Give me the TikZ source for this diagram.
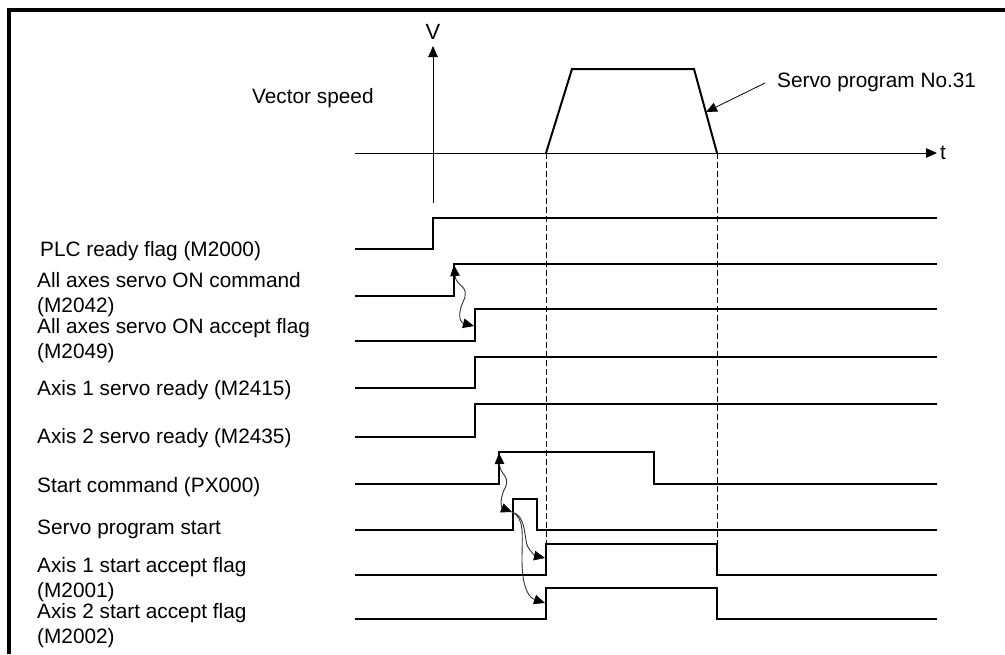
\documentclass[tikz,border=0pt]{standalone}
\usepackage{fontspec}
\setmainfont{Liberation Sans}
\usetikzlibrary{arrows.meta}
\begin{document}
\begin{tikzpicture}[x=1pt,y=-1pt,
  lbl/.style={anchor=base west,inner sep=0pt,align=left,font=\fontsize{20.8}{25}\selectfont},
  sig/.style={line width=2pt,line join=miter},
  axisline/.style={line width=1pt},
  guide/.style={line width=1pt,dash pattern=on 6pt off 3pt},
  tri/.tip={Triangle[length=11pt,width=9.5pt,color=black]},
  cause/.style={line width=0.9pt,draw=black!80}
]
\useasboundingbox (0,0) rectangle (1005,654);
% frame
\draw[line width=4.5pt] (9,654) -- (9,10) -- (1010,10);

% speed graph
\coordinate (torig) at (355,153);
\coordinate (tend) at (937,153);
\coordinate (vbot) at (433,203);
\coordinate (vtop) at (433,46);
\draw[axisline,-{tri}] (torig) -- (tend);
\draw[axisline,-{tri}] (vbot) -- (vtop);
\node[lbl,anchor=base,font=\fontsize{22}{26}\selectfont] (vlab) at (433,39) {V};
\node[lbl] (tlab) at (940,159) {t};
\node[lbl] (vspeed) at (252,103) {Vector speed};

\coordinate (accS) at (546,153);
\coordinate (accE) at (572,69);
\coordinate (decS) at (694,69);
\coordinate (decE) at (717,153);
\draw[sig] (accS) -- (accE) -- (decS) -- (decE);

\node[lbl] (sp31) at (777,87.5) {Servo program No.31};
\coordinate (sp31tail) at (765,83);
\coordinate (sp31tip) at (706,112);
\draw[line width=0.8pt,-{tri}] (sp31tail) -- (sp31tip);

% dashed guides
\coordinate (g1b) at (546,544);
\coordinate (g2b) at (717,544);
\draw[guide] (accS) -- (g1b);
\draw[guide] (decE) -- (g2b);

% labels (base anchor = baseline of last line)
\node[lbl] (l1) at (40,256.5) {PLC ready flag (M2000)};
\node[lbl] (l2) at (37,312) {All axes servo ON command\\(M2042)};
\node[lbl] (l3) at (37,358) {All axes servo ON accept flag\\(M2049)};
\node[lbl] (l4) at (37,395) {Axis 1 servo ready (M2415)};
\node[lbl] (l5) at (37,443) {Axis 2 servo ready (M2435)};
\node[lbl] (l6) at (37,492.5) {Start command (PX000)};
\node[lbl] (l7) at (37,534) {Servo program start};
\node[lbl] (l8) at (37,597) {Axis 1 start accept flag\\(M2001)};
\node[lbl] (l9) at (37,643) {Axis 2 start accept flag\\(M2002)};

% signals
\draw[sig] (355,249) -- (433,249) -- (433,218) -- (937,218);
\draw[sig] (355,296) -- (454,296) -- (454,264) -- (937,264);
\draw[sig] (355,341) -- (475,341) -- (475,309) -- (937,309);
\draw[sig] (355,388) -- (475,388) -- (475,357) -- (937,357);
\draw[sig] (355,437) -- (475,437) -- (475,404) -- (937,404);
\draw[sig] (355,484) -- (499,484) -- (499,452) -- (654,452) -- (654,484) -- (937,484);
\draw[sig] (355,530) -- (513,530) -- (513,499) -- (537,499) -- (537,530) -- (937,530);
\draw[sig] (355,575) -- (546,575) -- (546,544) -- (717,544) -- (717,575) -- (937,575);
\draw[sig] (355,619) -- (546,619) -- (546,588) -- (717,588) -- (717,619) -- (937,619);

% cause arrows
\coordinate (cmdUp) at (454,265);
\coordinate (accUp) at (474,326);
\coordinate (stUp) at (499,453);
\coordinate (spUp) at (512,512);
\coordinate (a1Up) at (545,558);
\coordinate (a2Up) at (545,603);
\draw[cause,{tri}-{tri}] (cmdUp) .. controls (456,287) and (471,285) .. (463,302) .. controls (456,318) and (462,323) .. (accUp);
\draw[cause,{tri}-{tri}] (stUp) .. controls (500,476) and (512,476) .. (504,490) .. controls (499,502) and (502,508) .. (spUp);
\draw[cause,-{tri}] (spUp) .. controls (526,516) and (524,535) .. (527,545) .. controls (530,552) and (536,556) .. (a1Up);
\draw[cause,-{tri}] (spUp) .. controls (525,518) and (522,535) .. (522,560) .. controls (522,590) and (530,598) .. (a2Up);
\end{tikzpicture}
\end{document}
